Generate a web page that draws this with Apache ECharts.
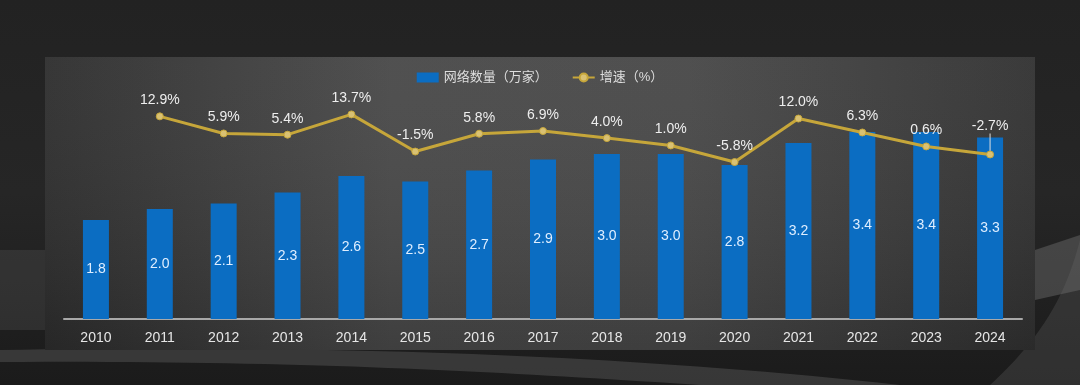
<!DOCTYPE html>
<html>
<head>
<meta charset="utf-8">
<script src="https://cdn.jsdelivr.net/npm/echarts@6/dist/echarts.min.js"></script>
<style>
html,body{margin:0;padding:0;background:#222;}
#c{width:1080px;height:385px;}
</style>
</head>
<body>
<div id="c"></div>
<script>
const categories = ['2010','2011','2012','2013','2014','2015','2016','2017','2018','2019','2020','2021','2022','2023','2024'];
const networkCount = [1.8, 2.0, 2.1, 2.3, 2.6, 2.5, 2.7, 2.9, 3.0, 3.0, 2.8, 3.2, 3.4, 3.4, 3.3];
const growthRate = [null, 12.9, 5.9, 5.4, 13.7, -1.5, 5.8, 6.9, 4.0, 1.0, -5.8, 12.0, 6.3, 0.6, -2.7];
const seriesNames = ['网络数量（万家）', '增速（%）'];

const FONT = '"Liberation Sans", Arial, "Noto Sans CJK SC", sans-serif';
const chart = echarts.init(document.getElementById('c'));

// decorative background curve helper (cubic bezier sampled into polygon points)
function bez(p0, p1, p2, p3, n) {
  const pts = [];
  for (let i = 0; i <= n; i++) {
    const t = i / n, u = 1 - t;
    pts.push([
      u*u*u*p0[0] + 3*u*u*t*p1[0] + 3*u*t*t*p2[0] + t*t*t*p3[0],
      u*u*u*p0[1] + 3*u*u*t*p1[1] + 3*u*t*t*p2[1] + t*t*t*p3[1]
    ]);
  }
  return pts;
}
const bandTop = bez([0,350],[300,345],[600,352],[900,385],40);
const bandBot = bez([0,362],[300,360],[500,372],[700,385],40).reverse();
const swoosh1 = bandTop.concat(bandBot);
const swoosh2 = bez([1080,240],[1068,285],[1050,330],[990,385],40).concat([[1080,385]]);
const swoosh3 = [[1035,250],[1080,235],[1080,290],[1035,300]];

const lastIdx = categories.length - 1;
const lineData = growthRate.map((v, i) => i === lastIdx
  ? { value: v, labelLine: { show: true, lineStyle: { color: '#e0e0e0', width: 1 } } }
  : v);

chart.setOption({
  backgroundColor: '#232323',
  graphic: [
    { type: 'rect', z: -10, silent: true, shape: { x: 0, y: 0, width: 1080, height: 385 },
      style: { fill: new echarts.graphic.LinearGradient(0, 0, 0, 1, [
        { offset: 0, color: '#222222' }, { offset: 0.5, color: '#262626' }, { offset: 1, color: '#1b1b1b' }]) } },
    { type: 'rect', z: -9, silent: true, shape: { x: 0, y: 250, width: 50, height: 80 },
      style: { fill: 'rgba(90,90,90,0.3)' } },
    { type: 'polygon', z: -9, silent: true, shape: { points: swoosh1 },
      style: { fill: 'rgba(110,110,110,0.35)' } },
    { type: 'polygon', z: -9, silent: true, shape: { points: swoosh2 },
      style: { fill: 'rgba(90,90,90,0.35)' } },
    { type: 'polygon', z: -9, silent: true, shape: { points: swoosh3 },
      style: { fill: 'rgba(110,110,110,0.45)' } },
    { type: 'rect', z: -8, silent: true, shape: { x: 45, y: 57, width: 990, height: 293 },
      style: { fill: new echarts.graphic.LinearGradient(0, 0, 1, 0, [
        { offset: 0, color: '#2c2c2c' }, { offset: 0.35, color: '#474747' },
        { offset: 0.65, color: '#464646' }, { offset: 1, color: '#303030' }]) } },
    { type: 'rect', z: -7, silent: true, shape: { x: 45, y: 57, width: 990, height: 293 },
      style: { fill: new echarts.graphic.LinearGradient(0, 0, 0, 1, [
        { offset: 0, color: 'rgba(255,255,255,0.05)' }, { offset: 1, color: 'rgba(0,0,0,0.12)' }]) } }
  ],
  legend: {
    top: 66, left: 'center', itemGap: 24,
    itemWidth: 22, itemHeight: 10,
    textStyle: { color: '#dddddd', fontSize: 13, fontFamily: FONT },
    data: [
      { name: seriesNames[0], icon: 'rect' },
      { name: seriesNames[1] }
    ]
  },
  grid: { left: 64, right: 58, top: 99, bottom: 66 },
  xAxis: {
    type: 'category', data: categories, boundaryGap: true,
    axisLine: { lineStyle: { color: '#a8a8a8', width: 2 } },
    axisTick: { show: false },
    axisLabel: { color: '#e6e6e6', fontSize: 14, fontFamily: FONT, margin: 12 }
  },
  yAxis: [
    { type: 'value', min: 0, max: 4, show: false, splitLine: { show: false } },
    { type: 'value', min: -70, max: 20, show: false, splitLine: { show: false } }
  ],
  series: [
    {
      name: seriesNames[0], type: 'bar', yAxisIndex: 0, barWidth: 26,
      data: networkCount,
      itemStyle: { color: '#0b6dc2' },
      label: { show: true, position: 'inside', color: '#dfeeff', fontSize: 14, fontFamily: FONT,
        formatter: p => p.value.toFixed(1) }
    },
    {
      name: seriesNames[1], type: 'line', yAxisIndex: 1,
      data: lineData,
      connectNulls: false,
      lineStyle: { color: '#c6a63a', width: 3 },
      itemStyle: { color: '#d9c173', borderColor: '#c6a63a', borderWidth: 1 },
      symbol: 'circle', symbolSize: 7, showSymbol: true,
      label: { show: true, position: 'top', distance: 5, color: '#eeeeee', fontSize: 14, fontFamily: FONT,
        formatter: p => p.value.toFixed(1) + '%' },
      labelLine: { show: false },
      labelLayout: p => (p.dataIndex === lastIdx ? { dy: -12 } : {}),
      z: 5
    }
  ]
});
</script>
</body>
</html>
